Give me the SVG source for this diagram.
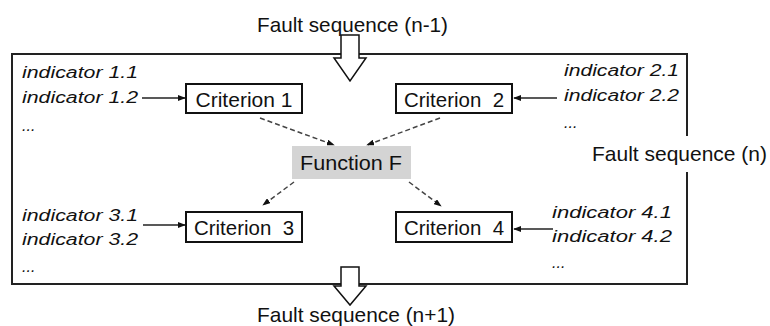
<svg xmlns="http://www.w3.org/2000/svg" width="770" height="326" viewBox="0 0 770 326">
<style>
.lbl{font-family:"Liberation Sans",Arial,sans-serif;font-size:21px;fill:#111}
.ind{font-family:"Liberation Sans",Arial,sans-serif;font-size:16px;font-style:italic;fill:#111}
.box{fill:#fff;stroke:#111;stroke-width:2}
.solid{stroke:#222;stroke-width:1.5;fill:none}
.dash{stroke:#444;stroke-width:1.5;fill:none;stroke-dasharray:5 3}
.hollow{fill:#fff;stroke:#111;stroke-width:1.5}
</style>
<defs>
<marker id="ah" viewBox="0 0 10 10" refX="9" refY="5" markerWidth="8" markerHeight="6" markerUnits="userSpaceOnUse" orient="auto" preserveAspectRatio="none">
<path d="M0,0 L10,5 L0,10 z" fill="#111"/>
</marker>
</defs>
<rect width="770" height="326" fill="#fff"/>
<g id="frame">
<path d="M687,136 V54 H12 V284 H687 V172" fill="none" stroke="#222" stroke-width="2"/>
</g>
<g id="seq-prev">
<text class="lbl" x="257" y="32" textLength="191" lengthAdjust="spacingAndGlyphs">Fault sequence (n-1)</text>
<polygon class="hollow" points="341,35 359,35 359,58 366,58 350,81 334,58 341,58"/>
</g>
<g id="seq-next">
<polygon class="hollow" points="341,267 359,267 359,286 366,286 350,305 334,286 341,286"/>
<text class="lbl" x="257" y="322" textLength="198" lengthAdjust="spacingAndGlyphs">Fault sequence (n+1)</text>
</g>
<g id="seq-n">
<text class="lbl" x="592" y="161" textLength="175" lengthAdjust="spacingAndGlyphs">Fault sequence (n)</text>
</g>
<g id="ind1">
<text class="ind" x="22" y="78" textLength="116" lengthAdjust="spacingAndGlyphs">indicator 1.1</text>
<text class="ind" x="22" y="103" textLength="116" lengthAdjust="spacingAndGlyphs">indicator 1.2</text>
<text class="ind" x="22" y="131">...</text>
</g>
<g id="ind2">
<text class="ind" x="564" y="76" textLength="115" lengthAdjust="spacingAndGlyphs">indicator 2.1</text>
<text class="ind" x="564" y="101" textLength="115" lengthAdjust="spacingAndGlyphs">indicator 2.2</text>
<text class="ind" x="564" y="128">...</text>
</g>
<g id="ind3">
<text class="ind" x="22" y="221" textLength="116" lengthAdjust="spacingAndGlyphs">indicator 3.1</text>
<text class="ind" x="22" y="245" textLength="116" lengthAdjust="spacingAndGlyphs">indicator 3.2</text>
<text class="ind" x="22" y="272">...</text>
</g>
<g id="ind4">
<text class="ind" x="552" y="218" textLength="120" lengthAdjust="spacingAndGlyphs">indicator 4.1</text>
<text class="ind" x="552" y="242" textLength="120" lengthAdjust="spacingAndGlyphs">indicator 4.2</text>
<text class="ind" x="552" y="268">...</text>
</g>
<g id="crit1">
<rect class="box" x="186" y="84" width="116" height="29"/>
<text class="lbl" x="244" y="107" text-anchor="middle" textLength="97" lengthAdjust="spacingAndGlyphs">Criterion 1</text>
</g>
<g id="crit2">
<rect class="box" x="396" y="84" width="116" height="29"/>
<text class="lbl" x="454" y="107" text-anchor="middle" textLength="100" lengthAdjust="spacingAndGlyphs" xml:space="preserve">Criterion  2</text>
</g>
<g id="crit3">
<rect class="box" x="186" y="212" width="116" height="30"/>
<text class="lbl" x="244" y="235" text-anchor="middle" textLength="100" lengthAdjust="spacingAndGlyphs" xml:space="preserve">Criterion  3</text>
</g>
<g id="crit4">
<rect class="box" x="396" y="212" width="116" height="30"/>
<text class="lbl" x="454" y="235" text-anchor="middle" textLength="100" lengthAdjust="spacingAndGlyphs" xml:space="preserve">Criterion  4</text>
</g>
<g id="funcF">
<rect x="292" y="146" width="119" height="33" fill="#d4d4d4"/>
<text class="lbl" x="351" y="170" text-anchor="middle" textLength="102" lengthAdjust="spacingAndGlyphs">Function F</text>
</g>
<g id="connectors">
<line class="solid" x1="142" y1="98" x2="185" y2="98" marker-end="url(#ah)"/>
<line class="solid" x1="557" y1="98" x2="514" y2="98" marker-end="url(#ah)"/>
<line class="solid" x1="143" y1="225" x2="185" y2="225" marker-end="url(#ah)"/>
<line class="solid" x1="553" y1="229" x2="514" y2="229" marker-end="url(#ah)"/>
<line class="dash" x1="260" y1="118" x2="334" y2="145" marker-end="url(#ah)"/>
<line class="dash" x1="440" y1="118" x2="367" y2="145" marker-end="url(#ah)"/>
<line class="dash" x1="294" y1="182" x2="263" y2="205" marker-end="url(#ah)"/>
<line class="dash" x1="409" y1="182" x2="441" y2="206" marker-end="url(#ah)"/>
</g>
</svg>
